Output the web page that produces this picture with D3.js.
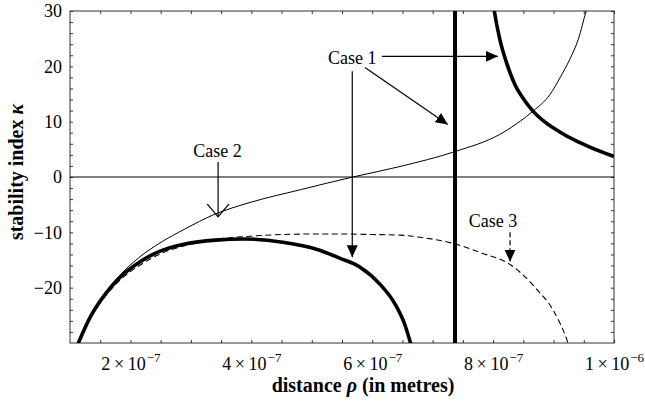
<!DOCTYPE html>
<html lang="en">
<head>
<meta charset="UTF-8">
<script src="https://d3js.org/d3.v7.min.js"></script>
<title>stability index</title>
<style>
  body { margin: 0; background: #fff; }
  text { font-family: "Liberation Serif", "Times New Roman", serif; fill: #000; }
</style>
</head>
<body>
<svg id="chart" width="645" height="406"></svg>
<script>
// values: rho in metres, kappa = stability index
const case2Rho   = [1.10e-7, 1.33e-7, 1.58e-7, 1.83e-7, 2.16e-7, 2.49e-7, 2.90e-7, 3.38e-7, 3.98e-7, 4.81e-7, 5.68e-7, 6.46e-7, 7.37e-7, 8.11e-7, 8.45e-7, 8.66e-7, 8.94e-7, 9.11e-7, 9.27e-7, 9.41e-7, 9.54e-7, 9.60e-7];
const case2Kappa = [-31, -25.2, -21.0, -17.7, -14.4, -11.9, -9.4, -6.8, -4.6, -2.3, 0, 1.9, 4.6, 7.7, 10.1, 11.9, 14.9, 18.0, 21.3, 24.9, 30, 32];

const case1LowRho   = [1.10e-7, 1.33e-7, 1.58e-7, 1.83e-7, 2.16e-7, 2.49e-7, 2.90e-7, 3.40e-7, 3.90e-7, 4.52e-7, 5.09e-7, 5.47e-7, 5.80e-7, 6.13e-7, 6.38e-7, 6.54e-7, 6.66e-7];
const case1LowKappa = [-31, -25.4, -21.2, -18.1, -15.3, -13.4, -12.1, -11.4, -11.2, -11.8, -13.1, -14.7, -16.3, -19.4, -23.0, -26.7, -31];

const case1HighRho   = [7.98e-7, 8.02e-7, 8.11e-7, 8.23e-7, 8.36e-7, 8.53e-7, 8.66e-7, 8.86e-7, 9.11e-7, 9.36e-7, 9.60e-7, 1.0e-6];
const case1HighKappa = [33, 30, 24.9, 20.4, 16.7, 13.7, 11.9, 9.9, 8.1, 6.6, 5.4, 3.7];

const case1Pole = 7.37e-7;

const case3Rho   = [1.10e-7, 1.33e-7, 1.58e-7, 1.83e-7, 2.16e-7, 2.49e-7, 2.90e-7, 3.40e-7, 3.98e-7, 4.5e-7, 5.0e-7, 5.5e-7, 6.0e-7, 6.46e-7, 6.79e-7, 7.34e-7, 7.80e-7, 8.28e-7, 8.73e-7, 8.99e-7, 9.22e-7, 9.27e-7];
const case3Kappa = [-31, -25.6, -21.6, -18.6, -15.9, -13.9, -12.4, -11.3, -10.7, -10.4, -10.3, -10.3, -10.4, -10.5, -10.9, -12.0, -13.7, -15.8, -20.4, -24.0, -29.4, -31];

const xTicks = d3.range(3, 21).map(i => i * 0.5e-7);
const xLabelled = [2e-7, 4e-7, 6e-7, 8e-7, 1e-6];
const yTicks = d3.range(-28, 31, 2);
const yLabelled = [-20, -10, 0, 10, 20, 30];

const svg = d3.select("#chart");
const margin = {top: 11, right: 31, bottom: 63, left: 70};
const width = 645 - margin.left - margin.right;
const height = 406 - margin.top - margin.bottom;

const x = d3.scaleLinear().domain([1e-7, 1e-6]).range([0, width]);
const y = d3.scaleLinear().domain([-30, 30]).range([height, 0]);

const g = svg.append("g").attr("transform", "translate(" + margin.left + "," + margin.top + ")");

g.append("clipPath").attr("id", "plotclip")
  .append("rect").attr("width", width).attr("height", height);

// arrow heads
const defs = svg.append("defs");
defs.append("marker").attr("id", "tri")
  .attr("viewBox", "0 0 12 12").attr("refX", 12).attr("refY", 6)
  .attr("markerUnits", "userSpaceOnUse").attr("markerWidth", 12).attr("markerHeight", 12)
  .attr("orient", "auto")
  .append("path").attr("d", "M0,0.5 L12,6 L0,11.5 Z").attr("fill", "#000");
defs.append("marker").attr("id", "vee")
  .attr("viewBox", "0 0 14 24").attr("refX", 13).attr("refY", 12)
  .attr("markerUnits", "userSpaceOnUse").attr("markerWidth", 14).attr("markerHeight", 24)
  .attr("orient", "auto")
  .append("path").attr("d", "M0,1 L13,12 L0,23").attr("fill", "none").attr("stroke", "#000").attr("stroke-width", 1.2);

function sci(v) {
  const e = Math.floor(Math.log10(v) + 1e-9);
  return [Math.round(v / Math.pow(10, e)), e];
}

// bottom axis
const bottom = g.append("g").attr("transform", "translate(0," + height + ")")
  .call(d3.axisBottom(x).tickValues(xTicks).tickSize(-3).tickSizeOuter(0).tickFormat(""));
bottom.selectAll(".tick text").each(function(d) {
  if (!xLabelled.some(v => Math.abs(v - d) < 1e-12)) return;
  const p = sci(d);
  const t = d3.select(this).attr("y", 27).attr("dy", null)
    .style("font-size", "18px").attr("text-anchor", "middle");
  t.append("tspan").text(p[0] + "\u2009\u00d7\u200910");
  t.append("tspan").attr("dy", -8).attr("dx", 1).style("font-size", "13px").text("\u2212" + Math.abs(p[1]));
});
// top axis (ticks only)
g.append("g").call(d3.axisTop(x).tickValues(xTicks).tickSize(-3).tickSizeOuter(0).tickFormat(""));

// left axis
const left = g.append("g")
  .call(d3.axisLeft(y).tickValues(yTicks).tickSize(-3).tickSizeOuter(0).tickPadding(8)
    .tickFormat(d => yLabelled.includes(d) ? (d < 0 ? "\u2212" + (-d) : d) : ""));
left.selectAll(".tick text").style("font-size", "18px");
// right axis (ticks only)
g.append("g").attr("transform", "translate(" + width + ",0)")
  .call(d3.axisRight(y).tickValues(yTicks).tickSize(-3).tickSizeOuter(0).tickFormat(""));

g.selectAll(".domain").remove();
g.selectAll(".tick line").attr("stroke", "#333");

// frame
g.append("rect").attr("width", width).attr("height", height)
  .attr("fill", "none").attr("stroke", "#333").attr("stroke-width", 1);

// zero line
g.append("line").attr("x1", 0).attr("x2", width).attr("y1", y(0)).attr("y2", y(0))
  .attr("stroke", "#000").attr("stroke-width", 1);

const line = d3.line().x(d => x(d[0])).y(d => y(d[1])).curve(d3.curveMonotoneX);
const plot = g.append("g").attr("clip-path", "url(#plotclip)");

plot.append("path").datum(d3.zip(case3Rho, case3Kappa)).attr("d", line)
  .attr("fill", "none").attr("stroke", "#000").attr("stroke-width", 1.1).attr("stroke-dasharray", "6,3.5");
plot.append("path").datum(d3.zip(case2Rho, case2Kappa)).attr("d", line)
  .attr("fill", "none").attr("stroke", "#000").attr("stroke-width", 1);
plot.append("path").datum(d3.zip(case1LowRho, case1LowKappa)).attr("d", line)
  .attr("fill", "none").attr("stroke", "#000").attr("stroke-width", 3.6);
plot.append("path").datum(d3.zip(case1HighRho, case1HighKappa)).attr("d", line)
  .attr("fill", "none").attr("stroke", "#000").attr("stroke-width", 3.6);
plot.append("line").attr("x1", x(case1Pole)).attr("x2", x(case1Pole))
  .attr("y1", y(-30)).attr("y2", y(30)).attr("stroke", "#000").attr("stroke-width", 4);

// annotations, positions in data units
const labels = [
  {text: "Case 1", rho: 5.67e-7, kappa: 20.4},
  {text: "Case 2", rho: 3.44e-7, kappa: 3.6},
  {text: "Case 3", rho: 8.0e-7, kappa: -9.0}
];
g.selectAll(".case").data(labels).join("text").attr("class", "case")
  .attr("x", d => x(d.rho)).attr("y", d => y(d.kappa))
  .attr("text-anchor", "middle").style("font-size", "18px").text(d => d.text);

const arrows = [
  {from: [6.16e-7, 21.8], to: [8.08e-7, 21.8], head: "tri", dash: null},
  {from: [5.88e-7, 19.8], to: [7.25e-7, 9.5], head: "tri", dash: null},
  {from: [5.67e-7, 19.1], to: [5.67e-7, -14.5], head: "tri", dash: null},
  {from: [3.45e-7, 2.7], to: [3.45e-7, -7.2], head: "vee", dash: null},
  {from: [8.28e-7, -10.0], to: [8.28e-7, -15.3], head: "tri", dash: "5,3"}
];
g.selectAll(".arrow").data(arrows).join("line").attr("class", "arrow")
  .attr("x1", d => x(d.from[0])).attr("y1", d => y(d.from[1]))
  .attr("x2", d => x(d.to[0])).attr("y2", d => y(d.to[1]))
  .attr("stroke", "#000").attr("stroke-width", 1.2)
  .attr("stroke-dasharray", d => d.dash)
  .attr("marker-end", d => "url(#" + d.head + ")");

// axis titles
svg.append("text").attr("transform", "translate(23,172) rotate(-90)")
  .attr("text-anchor", "middle").style("font-size", "20px").style("font-weight", "bold")
  .text("stability index ")
  .append("tspan").style("font-style", "italic").text("\u03ba");
svg.append("text").attr("x", 363).attr("y", 392)
  .attr("text-anchor", "middle").style("font-size", "20px").style("font-weight", "bold")
  .text("distance ")
  .call(t => t.append("tspan").style("font-style", "italic").text("\u03c1"))
  .call(t => t.append("tspan").text(" (in metres)"));
</script>
</body>
</html>
